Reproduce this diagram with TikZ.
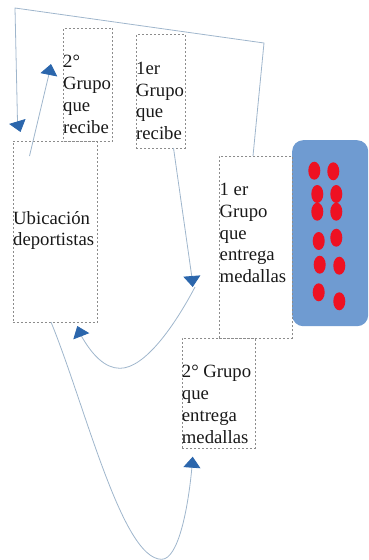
\documentclass[tikz,border=0pt]{standalone}
\usepackage{fontspec}
\setmainfont{Liberation Serif}
\usetikzlibrary{arrows.meta,shapes.geometric}
\definecolor{linecol}{HTML}{9FB6CC}
\definecolor{tipcol}{HTML}{2B66AC}
\definecolor{panelcol}{HTML}{6F9BD1}
\definecolor{medalcol}{HTML}{EE1122}
\definecolor{dashcol}{HTML}{8C8C8C}
\tikzset{
  x=1pt,y=-1pt,
  boxdash/.style={draw=dashcol,line width=0.7pt,dash pattern=on 2pt off 2pt,inner sep=0pt,anchor=north west},
  txt/.style={inner sep=0pt,anchor=north west,align=left,text=black!90,font=\fontsize{18.7pt}{21.7pt}\selectfont},
  conn/.style={draw=linecol,line width=0.8pt,-{Triangle[length=11pt,width=17pt,color=tipcol,fill=tipcol]}},
  panel/.style={fill=panelcol,draw=none,rounded corners=11pt,inner sep=0pt,anchor=north west},
  medal/.style={ellipse,fill=medalcol,draw=none,minimum width=12pt,minimum height=18pt,inner sep=0pt},
}
\begin{document}
\begin{tikzpicture}
\useasboundingbox (0,0) rectangle (368,560);
\node[panel,minimum width=76pt,minimum height=186pt] (panel) at (292,140) {};
\foreach \n/\a/\b in {m1/314.3/170.7,m2/333.3/171.3,m3/317.3/194,m4/336.3/194,m5/317.3/211.7,m6/336.3/211.7,m7/318.7/241,m8/336.3/237.7,m9/319.7/264.7,m10/339.3/265.7,m11/318.7/292.3,m12/339.3/301.3}
  \node[medal] (\n) at (\a,\b) {};
\node[boxdash,minimum width=49pt,minimum height=113pt] (b2r) at (63.3,28) {};
\node[boxdash,minimum width=49pt,minimum height=113.5pt] (b1r) at (136,34) {};
\node[boxdash,minimum width=84.5pt,minimum height=181pt] (ub) at (12.5,141) {};
\node[boxdash,minimum width=73pt,minimum height=182pt] (b1e) at (219,156) {};
\node[boxdash,minimum width=73pt,minimum height=110pt] (b2e) at (181.7,338) {};
\node[txt] (t2r) at (63,55.3) {2°\\Grupo\\que\\recibe};
\node[txt] (t1r) at (136,62) {1er\\Grupo\\que\\recibe};
\node[txt] (tub) at (13,211) {Ubicación\\deportistas};
\node[txt] (t1e) at (219.5,183.3) {1 er\\Grupo\\que\\entrega\\medallas};
\node[txt] (t2e) at (181.7,365.3) {2° Grupo\\que\\entrega\\medallas};
\coordinate (c1) at (253,156);
\coordinate (c2) at (264,43);
\coordinate (c3) at (15,8);
\coordinate (c4) at (17.5,122);
\coordinate (c5) at (20.5,132);
\draw[conn] (c1) -- (c2) -- (c3) -- (c4) -- (c5);
\coordinate (d1) at (29.5,156);
\coordinate (d2) at (49,74);
\coordinate (d3) at (51,64);
\draw[conn] (d1) -- (d2) -- (d3);
\coordinate (e1) at (173.5,148);
\coordinate (e2) at (192,278);
\coordinate (e3) at (192.7,287);
\draw[conn] (e1) -- (e2) -- (e3);
\coordinate (f1) at (195,287);
\coordinate (f2) at (120,368.3);
\coordinate (f3) at (80.8,335);
\coordinate (f4) at (77.3,326);
\draw[conn] (f1) .. controls (175,325) and (145,368.3) .. (f2) .. controls (105,368.3) and (92,355) .. (f3) -- (f4);
\coordinate (g1) at (51,322);
\coordinate (g2) at (161.7,559.3);
\coordinate (g3) at (192,466.5);
\coordinate (g4) at (192.7,456.7);
\draw[conn] (g1) .. controls (85,405) and (122,559.3) .. (g2) .. controls (178,559.3) and (188,510) .. (g3) -- (g4);
\end{tikzpicture}
\end{document}
